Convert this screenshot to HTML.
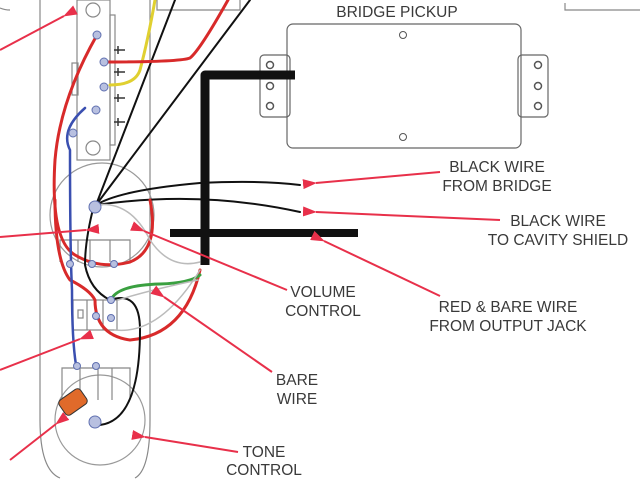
<!DOCTYPE html>
<html><head><style>
body{margin:0;background:#fff;}
svg{display:block;}
text{font-family:"Liberation Sans",sans-serif;font-size:15.5px;fill:#3a3a3a;text-anchor:middle;}
</style></head><body>
<svg width="640" height="480" viewBox="0 0 640 480" xmlns="http://www.w3.org/2000/svg">
<defs>
<marker id="ah" markerWidth="14" markerHeight="10" refX="1" refY="5" orient="auto-start-reverse" markerUnits="userSpaceOnUse">
<path d="M14,0 L0,5 L14,10 Z" fill="#e8304a"/>
</marker>
</defs>
<g fill="none" stroke="#888" stroke-width="1.2">
<path d="M40,0 V420 Q40,470 60,478"/>
<path d="M150,0 V420 Q150,470 135,478"/>
<path d="M0,8 Q5,10 10,10"/>
<path d="M565,3 V10 H640"/>
<path d="M157,0 V10 H240 V0"/>
<rect x="77" y="0" width="33" height="160"/>
<rect x="110" y="15" width="5" height="130"/>
<rect x="72" y="63" width="6" height="32"/>
<circle cx="93" cy="10" r="7"/>
<circle cx="93" cy="148" r="7"/>
<circle cx="102" cy="215" r="52" stroke="#999"/>
<path d="M60,262 V240 H130 V262"/>
<path d="M78,240 V262 M90,240 V262 M110,240 V262"/>
<rect x="73" y="300" width="44" height="30"/>
<path d="M87,300 V330 M103,300 V330"/>
<rect x="78" y="310" width="5" height="8"/>
<circle cx="100" cy="420" r="45" stroke="#999"/>
<path d="M62,400 V368 H130 V400"/>
<path d="M80,368 V400 M98,368 V400 M112,368 V400"/>
<rect x="287" y="24" width="234" height="124" rx="6" stroke="#666"/>
<rect x="260" y="55" width="30" height="62" rx="4" stroke="#666"/>
<rect x="518" y="55" width="30" height="62" rx="4" stroke="#666"/>
</g>
<g fill="#fff" stroke="#555" stroke-width="1.5">
<circle cx="270" cy="65" r="3.5"/><circle cx="270" cy="86" r="3.5"/><circle cx="270" cy="106" r="3.5"/>
<circle cx="538" cy="65" r="3.5"/><circle cx="538" cy="86" r="3.5"/><circle cx="538" cy="106" r="3.5"/>
<circle cx="403" cy="35" r="3.5" stroke-width="1"/><circle cx="403" cy="137" r="3.5" stroke-width="1"/>
</g>
<g stroke="#333" stroke-width="1.5" fill="none">
<path d="M114,50 H125 M114,72 H125 M114,98 H125 M114,122 H125 M118,46 V54 M118,68 V76 M118,94 V102 M118,118 V126"/>
</g>
<g fill="none" stroke-linecap="round">
<path d="M205,265 V75 H295" stroke="#111" stroke-width="9" stroke-linecap="butt" stroke-linejoin="round"/>
<path d="M170,233 H358" stroke="#111" stroke-width="8" stroke-linecap="butt"/>
<path d="M155,0 Q148,40 140,70 Q135,85 110,85" stroke="#e0d030" stroke-width="3"/>
<path d="M96,205 L175,0 M96,205 L250,0 M96,205 Q120,190 200,183 Q260,180 300,185 M96,205 Q200,190 300,212" stroke="#111" stroke-width="2"/>
<path d="M228,0 Q200,50 190,58 Q180,62 104,62" stroke="#d82a2a" stroke-width="3"/>
<path d="M97,35 Q60,100 55,160 Q50,240 75,255 Q100,270 130,262 Q160,250 150,200" stroke="#d82a2a" stroke-width="3"/>
<path d="M55,200 Q55,260 70,280 Q90,290 95,300 Q95,335 130,340 Q185,335 200,270" stroke="#d82a2a" stroke-width="3"/>
<path d="M85,108 Q60,130 70,150 Q70,250 72,290 Q72,340 76,365" stroke="#3a4fb0" stroke-width="2.5"/>
<path d="M94,205 Q85,240 85,265 Q90,290 110,300 Q140,290 140,330 Q140,420 100,425" stroke="#111" stroke-width="2"/>
<path d="M112,298 Q120,285 160,284 Q190,283 200,275" stroke="#3aa040" stroke-width="3"/>
<path d="M96,205 Q130,200 150,240 Q170,270 200,262 M115,330 Q160,335 200,270 M118,300 Q150,290 198,280" stroke="#bbb" stroke-width="1.5"/>
</g>
<g fill="#b8c0e0" stroke="#6070b0" stroke-width="1">
<circle cx="97" cy="35" r="4"/><circle cx="104" cy="62" r="4"/><circle cx="104" cy="87" r="4"/><circle cx="96" cy="110" r="4"/><circle cx="73" cy="133" r="4"/>
<circle cx="95" cy="207" r="6"/>
<circle cx="70" cy="264" r="3.5"/><circle cx="92" cy="264" r="3.5"/><circle cx="114" cy="264" r="3.5"/>
<circle cx="111" cy="300" r="3.5"/><circle cx="96" cy="316" r="3.5"/><circle cx="111" cy="318" r="3.5"/>
<circle cx="77" cy="366" r="3.5"/><circle cx="96" cy="366" r="3.5"/>
<circle cx="95" cy="422" r="6"/>
</g>
<rect x="60" y="393" width="26" height="18" rx="4" fill="#e06a2a" stroke="#333" transform="rotate(-35 73 402)"/>
<g stroke="#e8304a" stroke-width="2" fill="none" marker-end="url(#ah)">
<line x1="0" y1="50" x2="64" y2="16"/>
<line x1="440" y1="172" x2="316" y2="183"/>
<line x1="500" y1="220" x2="316" y2="212"/>
<line x1="440" y1="296" x2="324" y2="241"/>
<line x1="0" y1="237" x2="86" y2="230"/>
<line x1="287" y1="290" x2="144" y2="231"/>
<line x1="272" y1="372" x2="164" y2="297"/>
<line x1="0" y1="370" x2="80" y2="339"/>
<line x1="10" y1="460" x2="56" y2="424"/>
<line x1="238" y1="452" x2="145" y2="437"/>
</g>
<text x="397" y="17">BRIDGE PICKUP</text>
<text x="497" y="172">BLACK WIRE</text><text x="497" y="191">FROM BRIDGE</text>
<text x="558" y="226">BLACK WIRE</text><text x="558" y="245">TO CAVITY SHIELD</text>
<text x="323" y="297">VOLUME</text><text x="323" y="316">CONTROL</text>
<text x="508" y="312">RED &amp; BARE WIRE</text><text x="508" y="331">FROM OUTPUT JACK</text>
<text x="297" y="385">BARE</text><text x="297" y="404">WIRE</text>
<text x="264" y="457">TONE</text><text x="264" y="475">CONTROL</text>
</svg>
</body></html>
